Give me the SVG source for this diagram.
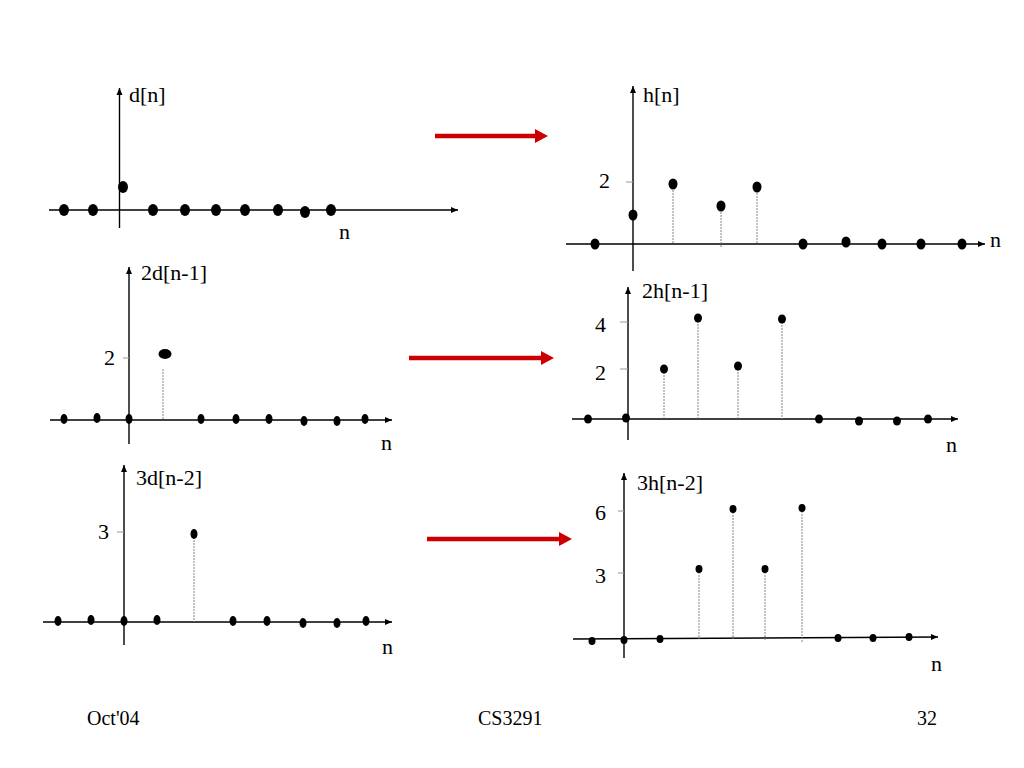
<svg xmlns="http://www.w3.org/2000/svg" width="1024" height="768" viewBox="0 0 1024 768">
<defs>
<marker id="ax" markerUnits="userSpaceOnUse" markerWidth="8" markerHeight="8" refX="7" refY="4" orient="auto">
<path d="M0,1 L7,4 L0,7 Z" fill="#000"/>
</marker>
<marker id="rd" markerUnits="userSpaceOnUse" markerWidth="14" markerHeight="16" refX="1" refY="8" orient="auto">
<path d="M0,1 L13,8 L0,15 Z" fill="#cc0000"/>
</marker>
</defs>
<style>
.axis{stroke:#000;stroke-width:1.4;fill:none}
.yax{stroke:#000;stroke-width:1.4;fill:none}
.tick{stroke:#999;stroke-width:1}
.stem{stroke:#777;stroke-width:0.9;stroke-dasharray:2,1;fill:none}
.dot{fill:#000}
.lbl{font-family:"Liberation Serif","Times New Roman",serif;font-size:22px;fill:#000}
.foot{font-family:"Liberation Serif","Times New Roman",serif;font-size:20px;fill:#000}
.red{stroke:#cc0000;stroke-width:4.5;fill:none}
</style>
<rect width="1024" height="768" fill="#fff"/>

<g id="panel-d">
<line class="axis" x1="49" y1="210" x2="458" y2="210" marker-end="url(#ax)"/>
<line class="yax" x1="119.5" y1="228" x2="119.5" y2="88" marker-end="url(#ax)"/>
<text class="lbl" x="129" y="102">d[n]</text>
<text class="lbl" x="339" y="239">n</text>
<g class="dot">
<ellipse cx="64" cy="210" rx="5" ry="6"/>
<ellipse cx="93" cy="210" rx="5" ry="6"/>
<ellipse cx="123" cy="187" rx="5" ry="6"/>
<ellipse cx="153" cy="210" rx="5" ry="6"/>
<ellipse cx="185" cy="210" rx="5" ry="6"/>
<ellipse cx="216" cy="210" rx="5" ry="6"/>
<ellipse cx="245" cy="210" rx="5" ry="6"/>
<ellipse cx="278" cy="210" rx="5" ry="6"/>
<ellipse cx="305" cy="212" rx="5" ry="6"/>
<ellipse cx="331" cy="210" rx="5" ry="6"/>
</g>
</g>

<g id="panel-h">
<line class="axis" x1="566" y1="244" x2="985" y2="244" marker-end="url(#ax)"/>
<line class="yax" x1="633" y1="271" x2="633" y2="86" marker-end="url(#ax)"/>
<line class="tick" x1="626" y1="182" x2="633" y2="182"/>
<text class="lbl" x="643" y="102">h[n]</text>
<text class="lbl" x="599" y="188">2</text>
<text class="lbl" x="990" y="247">n</text>
<line class="stem" x1="673" y1="184" x2="673" y2="244"/>
<line class="stem" x1="721" y1="206" x2="721" y2="247"/>
<line class="stem" x1="757" y1="187" x2="757" y2="244"/>
<g class="dot">
<ellipse cx="595" cy="244" rx="4.5" ry="5.5"/>
<ellipse cx="633" cy="215" rx="4.5" ry="5.5"/>
<ellipse cx="673" cy="184" rx="4.5" ry="5.5"/>
<ellipse cx="721" cy="206" rx="4.5" ry="5.5"/>
<ellipse cx="757" cy="187" rx="4.5" ry="5.5"/>
<ellipse cx="803" cy="244" rx="4.5" ry="5.5"/>
<ellipse cx="846" cy="242" rx="4.5" ry="5.5"/>
<ellipse cx="882" cy="244" rx="4.5" ry="5.5"/>
<ellipse cx="921" cy="244" rx="4.5" ry="5.5"/>
<ellipse cx="962" cy="244" rx="4.5" ry="5.5"/>
</g>
</g>

<g id="panel-2d">
<line class="axis" x1="50" y1="420" x2="392" y2="420" marker-end="url(#ax)"/>
<line class="yax" x1="129" y1="444" x2="129" y2="267" marker-end="url(#ax)"/>
<line class="tick" x1="123" y1="358" x2="129" y2="358"/>
<text class="lbl" x="141" y="280">2d[n-1]</text>
<text class="lbl" x="104" y="365">2</text>
<text class="lbl" x="381" y="450">n</text>
<line class="stem" x1="163" y1="369" x2="163" y2="420"/>
<g class="dot">
<ellipse cx="64" cy="419" rx="3.5" ry="5"/>
<ellipse cx="97" cy="418" rx="3.5" ry="5"/>
<ellipse cx="129" cy="419" rx="3.5" ry="5"/>
<ellipse cx="165" cy="354" rx="6.5" ry="5"/>
<ellipse cx="201" cy="419" rx="3.5" ry="5"/>
<ellipse cx="236" cy="419" rx="3.5" ry="5"/>
<ellipse cx="269" cy="419" rx="3.5" ry="5"/>
<ellipse cx="304" cy="421" rx="3.5" ry="5"/>
<ellipse cx="337" cy="421" rx="3.5" ry="5"/>
<ellipse cx="365" cy="419" rx="3.5" ry="5"/>
</g>
</g>

<g id="panel-2h">
<line class="axis" x1="572" y1="419" x2="958" y2="419" marker-end="url(#ax)"/>
<line class="yax" x1="628" y1="440" x2="628" y2="287" marker-end="url(#ax)"/>
<line class="tick" x1="620" y1="322" x2="628" y2="322"/>
<line class="tick" x1="620" y1="369" x2="628" y2="369"/>
<text class="lbl" x="642" y="298">2h[n-1]</text>
<text class="lbl" x="595" y="332">4</text>
<text class="lbl" x="595" y="380">2</text>
<text class="lbl" x="946" y="452">n</text>
<line class="stem" x1="664" y1="369" x2="664" y2="419"/>
<line class="stem" x1="698" y1="318" x2="698" y2="419"/>
<line class="stem" x1="738" y1="366" x2="738" y2="419"/>
<line class="stem" x1="782" y1="319" x2="782" y2="419"/>
<g class="dot">
<ellipse cx="588" cy="419" rx="4" ry="4.5"/>
<ellipse cx="626" cy="418" rx="4" ry="4.5"/>
<ellipse cx="664" cy="369" rx="4" ry="4.5"/>
<ellipse cx="698" cy="318" rx="4" ry="4.5"/>
<ellipse cx="738" cy="366" rx="4" ry="4.5"/>
<ellipse cx="782" cy="319" rx="4" ry="4.5"/>
<ellipse cx="819" cy="419" rx="4" ry="4.5"/>
<ellipse cx="859" cy="421" rx="4" ry="4.5"/>
<ellipse cx="897" cy="421" rx="4" ry="4.5"/>
<ellipse cx="928" cy="419" rx="4" ry="4.5"/>
</g>
</g>

<g id="panel-3d">
<line class="axis" x1="43" y1="622" x2="392" y2="622" marker-end="url(#ax)"/>
<line class="yax" x1="124" y1="645" x2="124" y2="465" marker-end="url(#ax)"/>
<line class="tick" x1="117" y1="532" x2="124" y2="532"/>
<text class="lbl" x="136" y="485">3d[n-2]</text>
<text class="lbl" x="98" y="539">3</text>
<text class="lbl" x="382" y="654">n</text>
<line class="stem" x1="194" y1="540" x2="194" y2="622"/>
<g class="dot">
<ellipse cx="58" cy="621" rx="3.5" ry="5"/>
<ellipse cx="91" cy="620" rx="3.5" ry="5"/>
<ellipse cx="124" cy="621" rx="3.5" ry="5"/>
<ellipse cx="157" cy="620" rx="3.5" ry="5"/>
<ellipse cx="194" cy="534" rx="3.5" ry="5"/>
<ellipse cx="233" cy="621" rx="3.5" ry="5"/>
<ellipse cx="267" cy="621" rx="3.5" ry="5"/>
<ellipse cx="303" cy="623" rx="3.5" ry="5"/>
<ellipse cx="337" cy="623" rx="3.5" ry="5"/>
<ellipse cx="366" cy="621" rx="3.5" ry="5"/>
</g>
</g>

<g id="panel-3h">
<line class="axis" x1="573" y1="639" x2="938" y2="637" marker-end="url(#ax)"/>
<line class="yax" x1="624" y1="658" x2="624" y2="473" marker-end="url(#ax)"/>
<line class="tick" x1="618" y1="511" x2="624" y2="511"/>
<line class="tick" x1="618" y1="573" x2="624" y2="573"/>
<text class="lbl" x="637" y="490">3h[n-2]</text>
<text class="lbl" x="595" y="520">6</text>
<text class="lbl" x="595" y="583">3</text>
<text class="lbl" x="931" y="671">n</text>
<line class="stem" x1="699" y1="569" x2="699" y2="639"/>
<line class="stem" x1="733" y1="509" x2="733" y2="639"/>
<line class="stem" x1="765" y1="569" x2="765" y2="641"/>
<line class="stem" x1="802" y1="508" x2="802" y2="643"/>
<g class="dot">
<ellipse cx="592" cy="641" rx="3.5" ry="4"/>
<ellipse cx="624" cy="640" rx="3.5" ry="4"/>
<ellipse cx="660" cy="639" rx="3.5" ry="4"/>
<ellipse cx="699" cy="569" rx="3.5" ry="4"/>
<ellipse cx="733" cy="509" rx="3.5" ry="4"/>
<ellipse cx="765" cy="569" rx="3.5" ry="4"/>
<ellipse cx="802" cy="508" rx="3.5" ry="4"/>
<ellipse cx="838" cy="638" rx="3.5" ry="4"/>
<ellipse cx="873" cy="638" rx="3.5" ry="4"/>
<ellipse cx="909" cy="637" rx="3.5" ry="4"/>
</g>
</g>

<g id="connectors">
<line class="red" x1="435" y1="136" x2="536" y2="136" marker-end="url(#rd)"/>
<line class="red" x1="409" y1="358" x2="542" y2="358" marker-end="url(#rd)"/>
<line class="red" x1="427" y1="539" x2="560" y2="539" marker-end="url(#rd)"/>
</g>

<g id="footer">
<text class="foot" x="87" y="725">Oct'04</text>
<text class="foot" x="478" y="725">CS3291</text>
<text class="foot" x="917" y="725">32</text>
</g>
</svg>
